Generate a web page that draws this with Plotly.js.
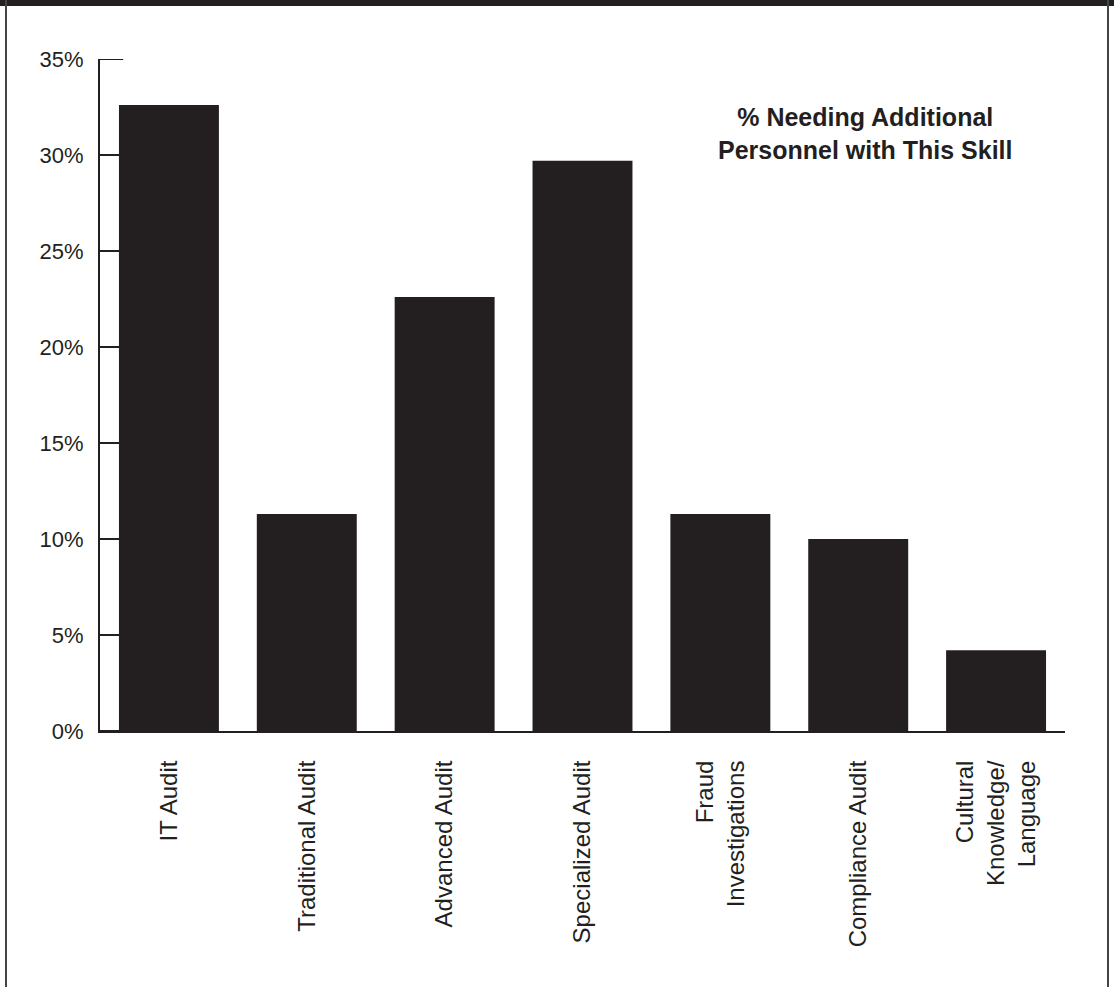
<!DOCTYPE html>
<html>
<head>
<meta charset="utf-8">
<script src="https://cdn.plot.ly/plotly-3.0.1.min.js"></script>
<style>
  html, body { margin: 0; padding: 0; background: #fff; }
  #wrap { position: relative; width: 1114px; height: 987px; overflow: hidden; }
  #chart { position: absolute; left: 0; top: 0; width: 1114px; height: 987px; }
  #topbar { position: absolute; left: 0; top: 0; width: 1114px; height: 6px; background: #231f20; }
  #lb { position: absolute; left: 5px; top: 0; width: 2px; height: 987px; background: #444; }
  #rb { position: absolute; left: 1107px; top: 0; width: 2px; height: 987px; background: #444; }
</style>
</head>
<body>
<div id="wrap">
  <div id="chart"></div>
  <div id="topbar"></div>
  <div id="lb"></div>
  <div id="rb"></div>
</div>
<script>
const categories = [
  "IT Audit",
  "Traditional Audit",
  "Advanced Audit",
  "Specialized Audit",
  "Fraud<br>Investigations",
  "Compliance Audit",
  "Cultural<br>Knowledge/<br>Language"
];
const values = [32.6, 11.3, 22.6, 29.7, 11.3, 10.0, 4.2];
const tickValues = [0, 5, 10, 15, 20, 25, 30, 35];
const tickLabels = ["0%", "5%", "10%", "15%", "20%", "25%", "30%", "35%"];
const legendTitle = "% Needing Additional<br>Personnel with This Skill";

const ink = "#231f20";
const fontFam = "Liberation Sans, Arial, sans-serif";

const trace = {
  type: "bar",
  x: categories,
  y: values,
  marker: { color: ink, line: { width: 0 } },
  hoverinfo: "skip"
};

// inside tick marks, drawn beneath the bars
const tickShapes = tickValues.map(v => ({
  type: "line",
  layer: "below",
  xref: "paper", yref: "y",
  x0: 0, x1: 0.024,
  y0: v, y1: v,
  line: { color: ink, width: 2 }
}));

const layout = {
  width: 1114,
  height: 987,
  margin: { l: 100, r: 49, t: 59, b: 256, pad: 0 },
  paper_bgcolor: "#ffffff",
  plot_bgcolor: "#ffffff",
  showlegend: false,
  bargap: 0.275,
  font: { family: fontFam, color: ink },
  xaxis: {
    type: "category",
    range: [-0.5, 6.5],
    showline: true,
    linecolor: ink,
    linewidth: 2,
    showgrid: false,
    zeroline: false,
    ticks: "",
    tickangle: -90,
    tickfont: { family: fontFam, size: 24, color: ink },
    ticklabelstandoff: 18,
    fixedrange: true
  },
  yaxis: {
    range: [0, 35],
    tickmode: "array",
    tickvals: tickValues,
    ticktext: tickLabels,
    showline: true,
    linecolor: ink,
    linewidth: 2,
    showgrid: false,
    zeroline: false,
    ticks: "",
    tickfont: { family: fontFam, size: 22, color: ink },
    ticklabelstandoff: 10,
    fixedrange: true
  },
  shapes: tickShapes,
  annotations: [{
    xref: "paper", yref: "paper",
    x: 0.793, y: 0.938,
    xanchor: "center", yanchor: "top",
    text: "<b>" + legendTitle + "</b>",
    showarrow: false,
    align: "center",
    font: { family: fontFam, size: 25, color: ink }
  }]
};

Plotly.newPlot("chart", [trace], layout, { displayModeBar: false, staticPlot: true });
</script>
</body>
</html>
